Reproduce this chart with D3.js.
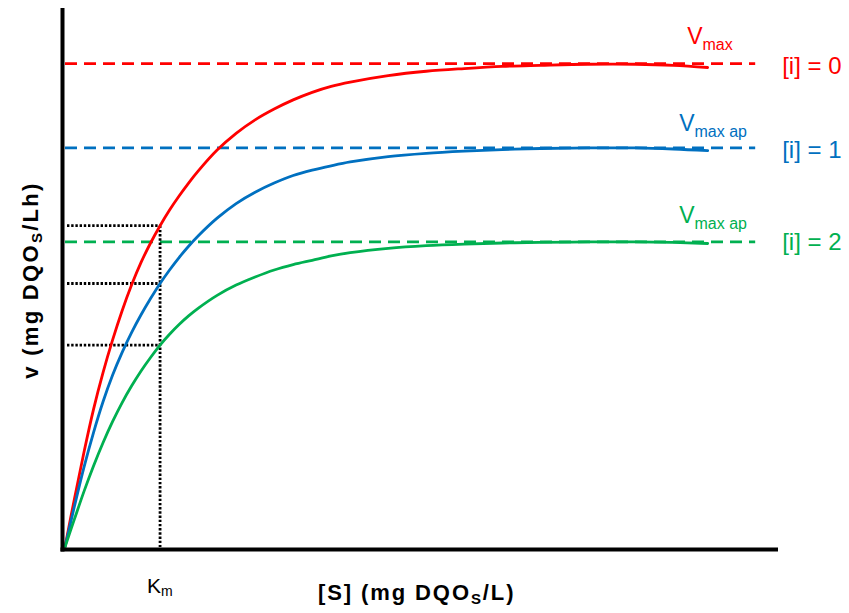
<!DOCTYPE html>
<html>
<head>
<meta charset="utf-8">
<script src="https://cdn.jsdelivr.net/npm/d3@7"></script>
<style>
  html, body { margin: 0; padding: 0; background: #fff; }
  svg { display: block; font-family: "Liberation Sans", Arial, sans-serif; }
</style>
</head>
<body>
<svg id="chart" width="849" height="613"></svg>
<script>
// Substrate concentration sampling points (arbitrary units)
const substrate = [0, 1, 2, 3, 4, 5, 6, 7, 8, 9, 10, 11, 12, 13, 14, 16, 18, 20, 22, 24, 26, 28, 30, 34, 38, 42, 46, 50, 55, 60, 64, 67.6];

// Reaction rate for each inhibitor concentration
const rateNoInhibitor = [0, 9.0, 17.6, 25.5, 32.3, 38.3, 43.7, 48.5, 52.7, 56.3, 59.5, 62.4, 65.0, 67.4, 69.6, 73.5, 76.6, 79.1, 81.1, 82.8, 84.2, 85.3, 86.1, 87.3, 88.1, 88.6, 89.0, 89.2, 89.4, 89.4, 89.2, 88.8];
const rateInhibitor1  = [0, 7.6, 14.8, 21.2, 26.9, 31.8, 36.0, 39.7, 43.0, 46.0, 48.8, 51.3, 53.6, 55.7, 57.6, 60.9, 63.6, 65.7, 67.4, 68.8, 69.8, 70.6, 71.3, 72.3, 72.9, 73.3, 73.6, 73.8, 73.9, 73.9, 73.7, 73.4];
const rateInhibitor2  = [0, 5.2, 10.3, 15.0, 19.3, 23.2, 26.7, 29.8, 32.6, 35.1, 37.4, 39.4, 41.2, 42.8, 44.2, 46.6, 48.5, 50.0, 51.3, 52.3, 53.1, 53.9, 54.5, 55.3, 55.8, 56.1, 56.3, 56.4, 56.5, 56.5, 56.4, 56.2];

// Asymptotic maximum rates, half-saturation constant, end of the reference lines
const vmaxValues = [89.5, 73.9, 56.5];
const kmValue = 10;
const dashEnd = 72.6;

const seriesColors = ["#FF0000", "#0070C0", "#00B050"];
const vmaxSubscripts = ["max", "max ap", "max ap"];
const inhibitorLabels = ["[i] = 0", "[i] = 1", "[i] = 2"];

const svg = d3.select("#chart");

const x = d3.scaleLinear().domain([0, 75]).range([65, 778]);
const y = d3.scaleLinear().domain([0, 100]).range([547, 7]);

const rates = [rateNoInhibitor, rateInhibitor1, rateInhibitor2];
const kmIndex = substrate.indexOf(kmValue);
const rateAtKm = rates.map(r => r[kmIndex]);

// Dashed Vmax reference lines
svg.append("g").selectAll("line")
  .data(vmaxValues)
  .join("line")
  .attr("x1", x(0)).attr("x2", x(dashEnd))
  .attr("y1", d => y(d)).attr("y2", d => y(d))
  .attr("stroke", (d, i) => seriesColors[i])
  .attr("stroke-width", 2.7)
  .attr("stroke-dasharray", "12,7");

// Dotted guides at Km
const guides = svg.append("g")
  .attr("stroke", "#000")
  .attr("stroke-width", 2.8)
  .attr("stroke-dasharray", "2.4,1.8");
guides.selectAll("line.h")
  .data(rateAtKm)
  .join("line")
  .attr("class", "h")
  .attr("x1", x(0) + 2).attr("x2", x(kmValue))
  .attr("y1", d => y(d)).attr("y2", d => y(d));
guides.append("line")
  .attr("x1", x(kmValue)).attr("x2", x(kmValue))
  .attr("y1", y(d3.max(rateAtKm))).attr("y2", y(0));

// Rate curves
const line = d3.line()
  .x((d, i) => x(substrate[i]))
  .y(d => y(d))
  .curve(d3.curveCatmullRom.alpha(0.5));

svg.append("g").selectAll("path")
  .data(rates)
  .join("path")
  .attr("d", d => line(d))
  .attr("fill", "none")
  .attr("stroke", (d, i) => seriesColors[i])
  .attr("stroke-width", 2.8)
  .attr("stroke-linecap", "round");

// Axes
svg.append("line")
  .attr("x1", x(0) - 2.5).attr("x2", x(0) - 2.5)
  .attr("y1", y(100) + 1).attr("y2", y(0) + 4.5)
  .attr("stroke", "#000").attr("stroke-width", 4);
svg.append("line")
  .attr("x1", x(0) - 4.5).attr("x2", x(75))
  .attr("y1", y(0) + 2.5).attr("y2", y(0) + 2.5)
  .attr("stroke", "#000").attr("stroke-width", 4);

// Vmax labels
const lastX = x(substrate[substrate.length - 1]);
const vLabelDx = [-20.5, -28.5, -28.5];
const vLabelDy = [-20, -16.5, -18.5];
vmaxValues.forEach((v, i) => {
  const t = svg.append("text")
    .attr("x", lastX + vLabelDx[i])
    .attr("y", y(v) + vLabelDy[i])
    .attr("fill", seriesColors[i])
    .attr("font-size", 23);
  t.append("tspan").text("V");
  t.append("tspan").attr("font-size", 16).attr("dy", 6).text(vmaxSubscripts[i]);
});

// Inhibitor concentration labels
const iLabelDy = [10.5, 10.3, 8.5];
vmaxValues.forEach((v, i) => {
  svg.append("text")
    .attr("x", x(dashEnd) + 27)
    .attr("y", y(v) + iLabelDy[i])
    .attr("fill", seriesColors[i])
    .attr("font-size", 24)
    .text(inhibitorLabels[i]);
});

// Km tick label
const km = svg.append("text")
  .attr("x", x(kmValue) - 13)
  .attr("y", 593)
  .attr("font-size", 21)
  .attr("fill", "#000");
km.append("tspan").text("K");
km.append("tspan").attr("font-size", 14).attr("dy", 3).text("m");

// Axis titles
const xt = svg.append("text")
  .attr("x", 318).attr("y", 600)
  .attr("font-size", 22).attr("font-weight", "bold")
  .attr("letter-spacing", 1.9)
  .attr("fill", "#000");
xt.append("tspan").text("[S] (mg DQO");
xt.append("tspan").attr("font-size", 15).attr("dy", 4).text("S");
xt.append("tspan").attr("dy", -4).text("/L)");

const yt = svg.append("text")
  .attr("transform", "translate(38,280) rotate(-90)")
  .attr("text-anchor", "middle")
  .attr("font-size", 22).attr("font-weight", "bold")
  .attr("letter-spacing", 2.3)
  .attr("fill", "#000");
yt.append("tspan").text("v (mg DQO");
yt.append("tspan").attr("font-size", 15).attr("dy", 4).text("S");
yt.append("tspan").attr("dy", -4).text("/Lh)");
</script>
</body>
</html>
